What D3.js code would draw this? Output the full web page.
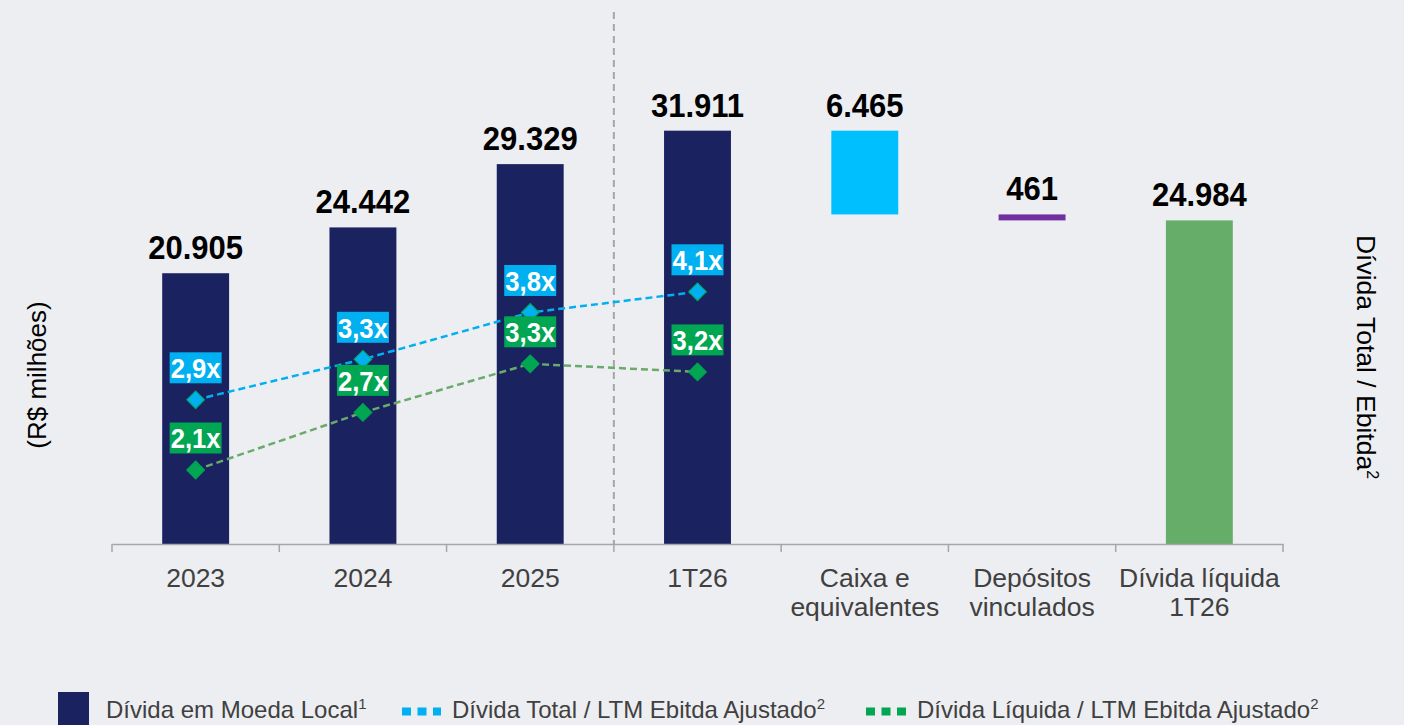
<!DOCTYPE html>
<html>
<head>
<meta charset="utf-8">
<script src="https://cdn.jsdelivr.net/npm/d3@7"></script>
<style>
  html, body { margin: 0; padding: 0; background: #edeef2; }
  svg { display: block; font-family: "Liberation Sans", Arial, sans-serif; }
</style>
</head>
<body>
<svg id="chart" width="1404" height="725"></svg>
<script>
// ---------- data ----------
const categories = ["2023", "2024", "2025", "1T26", "Caixa e\nequivalentes", "Depósitos\nvinculados", "Dívida líquida\n1T26"];
const barValues  = [20905, 24442, 29329, 31911, 6465, 461, 24984];
const barKinds   = ["debt", "debt", "debt", "debt", "cash", "deposit", "net"];
const ratioCategories = ["2023", "2024", "2025", "1T26"];
const totalRatio = [2.86, 3.31, 3.83, 4.06];   // Dívida Total / LTM Ebitda Ajustado
const netRatio   = [2.08, 2.72, 3.26, 3.17];   // Dívida Líquida / LTM Ebitda Ajustado
const legendLabels = ["Dívida em Moeda Local", "Dívida Total / LTM Ebitda Ajustado", "Dívida Líquida / LTM Ebitda Ajustado"];
const legendSups = ["1", "2", "2"];

// ---------- styles ----------
const colors = { debt: "#1a2360", cash: "#00bfff", deposit: "#7030a0", net: "#66ad6a",
                 blueLine: "#00b0f0", greenLine: "#6aaa6a", greenMark: "#00a651", blueBox: "#00b0f0", greenBox: "#00a651" };
const svg = d3.select("#chart");
const FONT = '"Liberation Sans", Arial, sans-serif';

// ---------- scales ----------
const x = d3.scaleBand().domain(categories).range([112, 1283]).paddingInner(0.6).paddingOuter(0.3);
const y = d3.scaleLinear().domain([0, 42000]).range([544, 0]);
const yR = d3.scaleLinear().domain([0, 6]).range([657.2, 117.2]);
const step = x.step();
const cx = c => x(c) + x.bandwidth() / 2;

// waterfall bases
let running = 0;
const bars = categories.map((c, i) => {
  const v = barValues[i], k = barKinds[i];
  let lo, hi;
  if (k === "debt") { lo = 0; hi = v; running = v; }
  else if (k === "cash" || k === "deposit") { hi = running; lo = running - v; running = lo; }
  else { lo = 0; hi = v; }
  return { c, v, k, lo, hi };
});

// ---------- separator ----------
svg.append("line")
  .attr("x1", cx("1T26") - step / 2).attr("x2", cx("1T26") - step / 2)
  .attr("y1", 12).attr("y2", y(0))
  .attr("stroke", "#a6a6a6").attr("stroke-width", 2).attr("stroke-dasharray", "7,5");

// ---------- bars ----------
svg.append("g").selectAll("rect").data(bars).join("rect")
  .attr("x", d => x(d.c)).attr("width", x.bandwidth())
  .attr("y", d => y(d.hi)).attr("height", d => y(d.lo) - y(d.hi))
  .attr("fill", d => colors[d.k]);

// value labels
const fmtInt = d3.formatLocale({ decimal: ",", thousands: ".", grouping: [3], currency: ["R$", ""] }).format(",d");
svg.append("g").selectAll("text").data(bars).join("text")
  .attr("transform", d => `translate(${cx(d.c)},${y(d.hi) - 14}) scale(0.97,1.04)`)
  .attr("text-anchor", "middle").attr("font-size", 32).attr("font-weight", "bold").attr("fill", "#000")
  .text(d => fmtInt(d.v));

// ---------- axis ----------
const axisG = svg.append("g").attr("transform", `translate(0,${y(0)})`)
  .call(d3.axisBottom(x).tickSize(0).tickFormat(""));
axisG.select(".domain").attr("stroke", "#a6a6a6").attr("stroke-width", 1.5);
axisG.selectAll(".tick").remove();
const bounds = d3.range(categories.length + 1).map(i => x.range()[0] + i * step);
axisG.selectAll("line.bnd").data(bounds).join("line").attr("class", "bnd")
  .attr("x1", d => d).attr("x2", d => d).attr("y1", 0).attr("y2", 8)
  .attr("stroke", "#a6a6a6").attr("stroke-width", 1.5);
const lbl = axisG.selectAll("text.cat").data(categories).join("text").attr("class", "cat")
  .attr("x", d => cx(d)).attr("y", 43).attr("text-anchor", "middle")
  .attr("font-size", 26.5).attr("fill", "#404040").attr("font-family", FONT);
lbl.each(function(d) {
  const lines = d.split("\n");
  d3.select(this).selectAll("tspan").data(lines).join("tspan")
    .attr("x", cx(d)).attr("dy", (l, i) => i === 0 ? 0 : 29).text(l => l);
});

// ---------- ratio lines ----------
function drawSeries(vals, lineColor, markFill, markStroke, boxColor) {
  const pts = ratioCategories.map((c, i) => ({ x: cx(c), y: yR(vals[i]), v: vals[i] }));
  svg.append("path").datum(pts)
    .attr("d", d3.line().x(d => d.x).y(d => d.y))
    .attr("fill", "none").attr("stroke", lineColor).attr("stroke-width", 2.5).attr("stroke-dasharray", "7,4");
  svg.append("g").selectAll("path").data(pts).join("path")
    .attr("transform", d => `translate(${d.x},${d.y}) rotate(45)`)
    .attr("d", d3.symbol().type(d3.symbolSquare).size(160))
    .attr("fill", markFill).attr("stroke", markStroke).attr("stroke-width", 1);
  const g = svg.append("g").selectAll("g").data(pts).join("g")
    .attr("transform", d => `translate(${d.x},${d.y - 32})`);
  g.append("rect").attr("x", -26).attr("y", -15.5).attr("width", 52).attr("height", 31).attr("fill", boxColor);
  g.append("text").attr("text-anchor", "middle").attr("transform", "scale(0.9,1)").attr("dy", "0.36em")
    .attr("font-size", 28.5).attr("font-weight", "bold").attr("fill", "#fff")
    .text(d => d3.format(".1f")(d.v).replace(".", ",") + "x");
}
drawSeries(totalRatio, colors.blueLine, colors.blueLine, colors.greenMark, colors.blueBox);
drawSeries(netRatio, colors.greenLine, colors.greenMark, colors.greenMark, colors.greenBox);

// ---------- axis titles ----------
svg.append("text").attr("transform", "translate(37,375) rotate(-90)")
  .attr("text-anchor", "middle").attr("dy", "0.35em").attr("font-size", 26).attr("fill", "#000")
  .text("(R$ milhões)");
const rt = svg.append("text").attr("transform", "translate(1366,357) rotate(90)")
  .attr("text-anchor", "middle").attr("dy", "0.35em").attr("font-size", 26.5).attr("fill", "#000");
rt.append("tspan").text("Dívida Total / Ebitda");
rt.append("tspan").attr("font-size", 16).attr("dy", -10).text("2");

// ---------- legend ----------
const leg = svg.append("g").attr("font-size", 24).attr("fill", "#404040");
leg.append("rect").attr("x", 58).attr("y", 692).attr("width", 31).attr("height", 40).attr("fill", colors.debt);
const legText = (xp, i) => {
  const t = leg.append("text").attr("x", xp).attr("y", 718);
  t.append("tspan").text(legendLabels[i]);
  t.append("tspan").attr("font-size", 15).attr("dy", -9).text(legendSups[i]);
};
legText(106, 0);
leg.append("line").attr("x1", 402).attr("x2", 441).attr("y1", 711.5).attr("y2", 711.5)
  .attr("stroke", colors.blueLine).attr("stroke-width", 8).attr("stroke-dasharray", "9,6.5");
legText(452, 1);
leg.append("line").attr("x1", 866).attr("x2", 906).attr("y1", 711.5).attr("y2", 711.5)
  .attr("stroke", colors.greenMark).attr("stroke-width", 8).attr("stroke-dasharray", "9,6.5");
legText(917, 2);
</script>
</body>
</html>
